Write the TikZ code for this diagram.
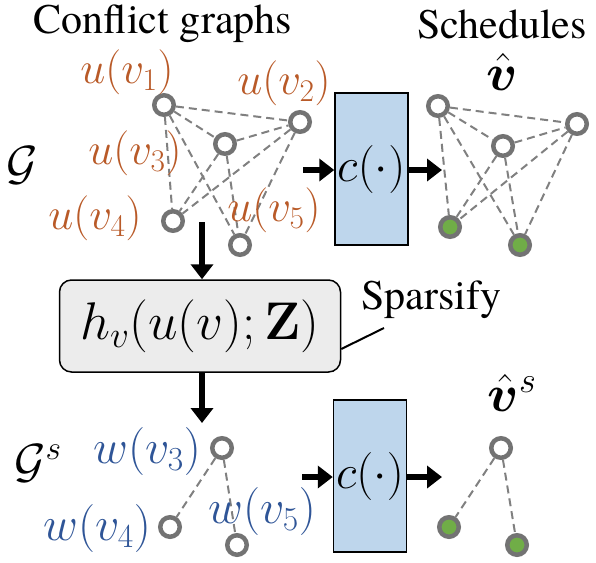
\RequirePackage{fix-cm}
\documentclass[tikz,border=0pt]{standalone}
\usepackage[no-math]{fontspec}
\newfontfamily\timesfont{TeX Gyre Termes}
\usepackage{amsmath,bm}
\usetikzlibrary{arrows.meta,calc}
\definecolor{ulab}{RGB}{185,90,40}
\definecolor{wlab}{RGB}{47,85,151}
\definecolor{ringgray}{RGB}{115,115,115}
\definecolor{edgegray}{RGB}{128,128,128}
\definecolor{selgreen}{RGB}{112,173,71}
\definecolor{boxblue}{RGB}{190,214,236}
\definecolor{boxgray}{RGB}{236,236,236}
\begin{document}
\begin{tikzpicture}[x=1pt,y=-1pt,
  vert/.style={circle, draw=ringgray, line width=4.5pt, minimum size=19.5pt, inner sep=0pt, fill=white},
  sel/.style={vert, fill=selgreen},
  gedge/.style={draw=edgegray, line width=2pt, dash pattern=on 8pt off 5pt},
  bigarrow/.style={line width=6pt, -{Triangle[length=15pt,width=22pt]}},
  ulabel/.style={text=ulab, inner sep=0pt, font=\fontsize{45}{50}\selectfont},
  wlabel/.style={text=wlab, inner sep=0pt, font=\fontsize{48}{54}\selectfont},
  mathbig/.style={inner sep=0pt, font=\fontsize{48}{54}\selectfont},
  cbox/.style={draw=black, line width=1.5pt, fill=boxblue, minimum width=73pt, minimum height=152pt, inner sep=0pt, font=\fontsize{48}{54}\selectfont},
  plain/.style={inner sep=0pt},
  txt/.style={inner sep=0pt, font=\timesfont\fontsize{42}{48}\selectfont}
]
\useasboundingbox (0,0) rectangle (596,562);

% titles
\node[txt] (title1) at (163,24) {Conflict graphs};
\node[txt] (title2) at (502,24) {Schedules};

% top-left graph
\node[vert] (u1) at (164,105) {};
\node[vert] (u2) at (300,122) {};
\node[vert] (u3) at (225,144) {};
\node[vert] (u4) at (173,221) {};
\node[vert] (u5) at (240,245) {};
\foreach \a/\b in {u1/u2,u1/u3,u1/u4,u1/u5,u3/u2,u3/u4,u3/u5,u2/u4,u2/u5}
  \draw[gedge] (\a) -- (\b);
\node[ulabel] (lu1) at (127,72) {$u(v_1)$};
\node[ulabel] (lu2) at (284,83) {$u(v_2)$};
\node[ulabel] (lu3) at (135,153) {$u(v_3)$};
\node[ulabel] (lu4) at (95,218) {$u(v_4)$};
\node[ulabel] (lu5) at (274,210) {$u(v_5)$};
\node[mathbig] (G) at (22,165) {$\mathcal{G}$};

% top c box
\node[cbox] (c1) at (371.5,169) {$c(\cdot)$};
\coordinate (in1) at (303,170);
\coordinate (out1) at (442,170);
\draw[bigarrow] (in1) -- (c1.west |- in1);
\draw[bigarrow] (c1.east |- out1) -- (out1);

% top-right graph
\node[plain, font=\fontsize{52}{58}\selectfont] (vhat) at (502,72) {$\hat{\bm{v}}$};
\node[vert] (a1) at (438,106) {};
\node[vert] (a2) at (577,124) {};
\node[vert] (a3) at (503,146) {};
\node[sel]  (a4) at (450,227) {};
\node[sel]  (a5) at (520,245) {};
\foreach \a/\b in {a1/a2,a1/a3,a1/a4,a1/a5,a3/a2,a3/a4,a3/a5,a2/a4,a2/a5}
  \draw[gedge] (\a) -- (\b);

% h box
\node[draw=black, line width=1.5pt, fill=boxgray, rounded corners=12pt,
      minimum width=281pt, minimum height=92pt, inner sep=0pt,
      font=\fontsize{53}{60}\selectfont] (hbox) at (200,326)
      {$h_v(u(v);\mathbf{Z})$};
\coordinate (topdown) at (202,222);
\coordinate (botdown) at (202,423);
\draw[bigarrow] (topdown) -- (topdown |- hbox.north);
\draw[bigarrow] (hbox.south -| botdown) -- (botdown);
\node[txt] (sparsify) at (431,300) {Sparsify};
\coordinate (sp) at (384,328);
\draw[line width=2pt] ($(hbox.east)+(0,23)$) -- (sp);

% bottom-left graph
\node[vert] (w3) at (222,448) {};
\node[vert] (w4) at (170,527) {};
\node[vert] (w5) at (237,545) {};
\draw[gedge] (w3) -- (w4);
\draw[gedge] (w3) -- (w5);
\node[wlabel] (lw3) at (147,451) {$w(v_3)$};
\node[wlabel] (lw4) at (97,528) {$w(v_4)$};
\node[wlabel] (lw5) at (262,511) {$w(v_5)$};
\node[mathbig] (Gs) at (38,463) {$\mathcal{G}^s$};

% bottom c box
\node[cbox] (c2) at (370,476) {$c(\cdot)$};
\coordinate (in2) at (302,477);
\coordinate (out2) at (442,477);
\draw[bigarrow] (in2) -- (c2.west |- in2);
\draw[bigarrow] (c2.east |- out2) -- (out2);

% bottom-right graph
\node[plain, font=\fontsize{52}{58}\selectfont] (vhats) at (512,393) {$\hat{\bm{v}}^s$};
\node[vert] (b3) at (501,448) {};
\node[sel]  (b4) at (449,527) {};
\node[sel]  (b5) at (517,545) {};
\draw[gedge] (b3) -- (b4);
\draw[gedge] (b3) -- (b5);
\end{tikzpicture}
\end{document}
